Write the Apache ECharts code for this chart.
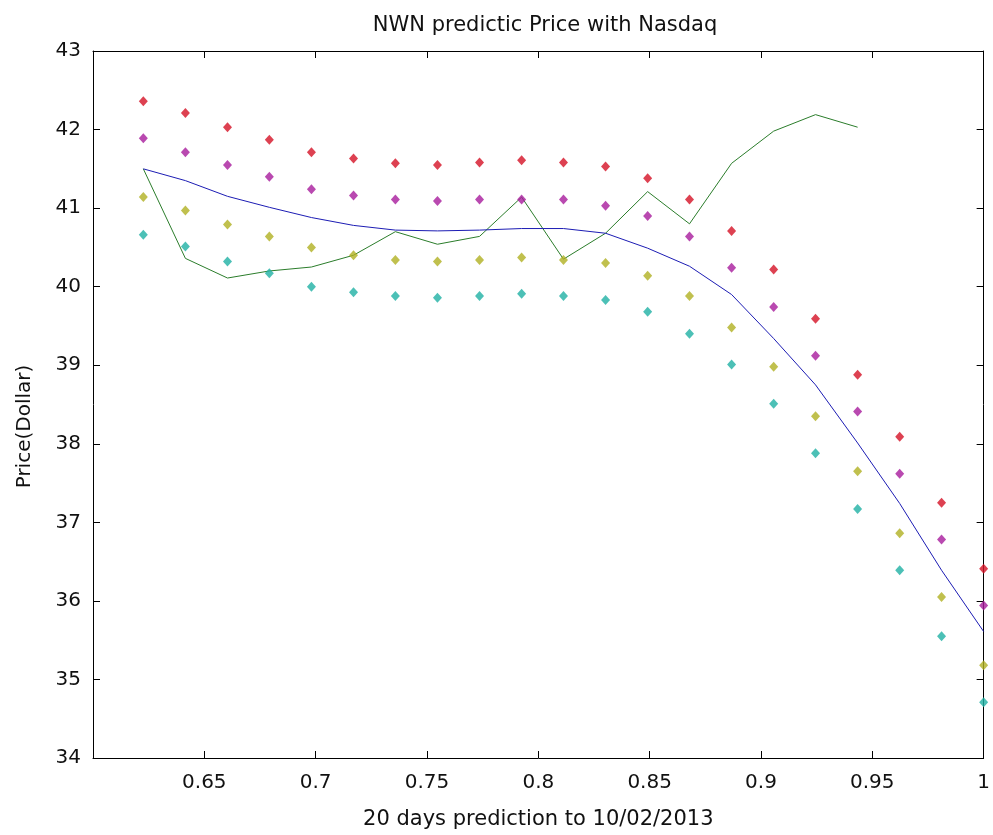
<!DOCTYPE html>
<html>
<head>
<meta charset="utf-8">
<script src="https://cdn.jsdelivr.net/npm/echarts@6/dist/echarts.min.js"></script>
<style>
html,body{margin:0;padding:0;background:#fff;}
#chart{width:993px;height:835px;}
</style>
</head>
<body>
<div id="chart"></div>
<script>
const titleText = 'NWN predictic Price with Nasdaq';
const xName = '20 days prediction to 10/02/2013';
const yName = 'Price(Dollar)';

const xValues = [0.6226, 0.6415, 0.6604, 0.6792, 0.6981, 0.7170, 0.7358, 0.7547, 0.7736, 0.7925, 0.8113,
                 0.8302, 0.8491, 0.8679, 0.8868, 0.9057, 0.9245, 0.9434, 0.9623, 0.9811, 1.0000];

const redPts     = [42.36, 42.21, 42.03, 41.87, 41.71, 41.63, 41.57, 41.55, 41.58, 41.61, 41.58, 41.53, 41.38, 41.11, 40.71, 40.22, 39.59, 38.88, 38.09, 37.25, 36.41];
const magentaPts = [41.89, 41.71, 41.55, 41.40, 41.24, 41.16, 41.11, 41.09, 41.11, 41.11, 41.11, 41.03, 40.90, 40.64, 40.24, 39.74, 39.12, 38.41, 37.62, 36.78, 35.94];
const yellowPts  = [41.14, 40.97, 40.79, 40.64, 40.50, 40.40, 40.34, 40.32, 40.34, 40.37, 40.34, 40.30, 40.14, 39.88, 39.48, 38.98, 38.35, 37.65, 36.86, 36.05, 35.18];
const cyanPts    = [40.66, 40.51, 40.32, 40.17, 40.00, 39.93, 39.88, 39.86, 39.88, 39.91, 39.88, 39.83, 39.68, 39.40, 39.01, 38.51, 37.88, 37.17, 36.39, 35.55, 34.71];
const blueLine   = [41.50, 41.35, 41.15, 41.01, 40.88, 40.78, 40.72, 40.71, 40.72, 40.74, 40.74, 40.68, 40.49, 40.26, 39.90, 39.34, 38.75, 38.01, 37.24, 36.39, 35.61];
const greenLine  = [41.50, 40.36, 40.11, 40.20, 40.25, 40.40, 40.70, 40.54, 40.64, 41.14, 40.35, 40.68, 41.21, 40.80, 41.57, 41.98, 42.19, 42.03];

const xMin = 0.6, xMax = 1, xStep = 0.05;
const yMin = 34, yMax = 43, yStep = 1;

function pairs(vals) { return vals.map((v, i) => [xValues[i], v]); }

const FONT = 'DejaVu Sans';
const FS = 20;
const chart = echarts.init(document.getElementById('chart'), null, {renderer: 'canvas'});

const baseAxisLine = {show: true, lineStyle: {color: '#000', width: 1}};
const tickStyle = {show: true, inside: true, length: 7, lineStyle: {color: '#000', width: 1}};

function scatter(name, vals, color) {
  return {
    name: name, type: 'scatter', data: pairs(vals),
    symbol: 'diamond', symbolSize: [9, 10],
    itemStyle: {color: color}, xAxisIndex: 0, yAxisIndex: 0, z: 3
  };
}

chart.setOption({
  animation: false,
  backgroundColor: '#fff',
  title: {
    text: titleText, left: 540, top: 10, textAlign: 'center',
    textStyle: {fontFamily: FONT, fontSize: FS + 1, fontWeight: 'normal', color: '#111'}
  },
  grid: {left: 93, right: 6, top: 51, bottom: 77, containLabel: false},
  xAxis: [{
    type: 'value', min: xMin, max: xMax, interval: xStep, position: 'bottom',
    name: xName, nameLocation: 'middle', nameGap: 51,
    nameTextStyle: {fontFamily: FONT, fontSize: FS + 1, color: '#111'},
    axisLine: baseAxisLine, axisTick: tickStyle,
    axisLabel: {showMinLabel: false, margin: 15, fontFamily: FONT, fontSize: FS, color: '#111',
                formatter: v => String(+v.toFixed(2))},
    splitLine: {show: false}
  }, {
    type: 'value', min: xMin, max: xMax, interval: xStep, position: 'top',
    axisLine: baseAxisLine, axisTick: tickStyle, axisLabel: {show: false}, splitLine: {show: false}
  }],
  yAxis: [{
    type: 'value', min: yMin, max: yMax, interval: yStep, position: 'left',
    name: yName, nameLocation: 'middle', nameGap: 58, nameRotate: 90,
    nameTextStyle: {fontFamily: FONT, fontSize: FS, color: '#111', padding: [0, 44, 0, 0]},
    axisLine: baseAxisLine, axisTick: tickStyle,
    axisLabel: {margin: 12, fontFamily: FONT, fontSize: FS, color: '#111'},
    splitLine: {show: false}
  }, {
    type: 'value', min: yMin, max: yMax, interval: yStep, position: 'right',
    axisLine: baseAxisLine, axisTick: tickStyle, axisLabel: {show: false}, splitLine: {show: false}
  }],
  series: [
    {
      name: 'actual', type: 'line', data: pairs(greenLine), showSymbol: false,
      lineStyle: {color: '#2b7d2b', width: 1}, z: 2
    },
    {
      name: 'predicted', type: 'line', data: pairs(blueLine), showSymbol: false,
      lineStyle: {color: '#1c1cb4', width: 1}, z: 2
    },
    scatter('upper2', redPts, '#d41226'),
    scatter('upper1', magentaPts, '#a81c9c'),
    scatter('lower1', yellowPts, '#b0b022'),
    scatter('lower2', cyanPts, '#1fb0a4')
  ]
});
</script>
</body>
</html>
